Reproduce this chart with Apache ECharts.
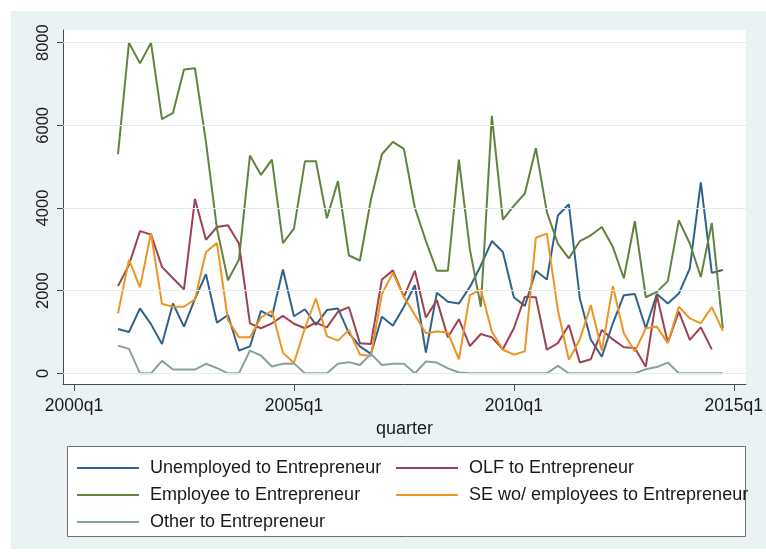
<!DOCTYPE html>
<html>
<head>
<meta charset="utf-8">
<script src="https://cdn.jsdelivr.net/npm/echarts@6/dist/echarts.min.js"></script>
<style>
  html, body { margin: 0; padding: 0; background: #ffffff; }
  #chart { width: 766px; height: 555px; }
</style>
</head>
<body>
<div id="chart"></div>
<script>
// Quarterly flows into entrepreneurship, 2001q1-2014q4
const quarters = [
  '2001q1','2001q2','2001q3','2001q4','2002q1','2002q2','2002q3','2002q4',
  '2003q1','2003q2','2003q3','2003q4','2004q1','2004q2','2004q3','2004q4',
  '2005q1','2005q2','2005q3','2005q4','2006q1','2006q2','2006q3','2006q4',
  '2007q1','2007q2','2007q3','2007q4','2008q1','2008q2','2008q3','2008q4',
  '2009q1','2009q2','2009q3','2009q4','2010q1','2010q2','2010q3','2010q4',
  '2011q1','2011q2','2011q3','2011q4','2012q1','2012q2','2012q3','2012q4',
  '2013q1','2013q2','2013q3','2013q4','2014q1','2014q2','2014q3','2014q4'
];

const xTickLabels = ['2000q1', '2005q1', '2010q1', '2015q1'];
const yTickValues = [0, 2000, 4000, 6000, 8000];

const seriesNames = [
  'Unemployed to Entrepreneur',
  'OLF to Entrepreneur',
  'Employee to Entrepreneur',
  'SE wo/ employees to Entrepreneur',
  'Other to Entrepreneur'
];

const unemployed = [
  1070, 1000, 1570, 1190, 710, 1690, 1130, 1800, 2400, 1225,
  1410, 550, 650, 1510, 1370, 2510, 1380, 1550, 1170, 1530,
  1570, 970, 650, 470, 1370, 1150, 1610, 2130, 500, 1950,
  1730, 1690, 2090, 2610, 3200, 2935, 1840, 1630, 2480, 2270,
  3820, 4090, 1810, 810, 400, 1210, 1890, 1920, 1090, 1920,
  1690, 1930, 2540, 4620, 2430, 2500
];

// OLF series stops at 2014q3
const olf = [
  2110, 2620, 3440, 3360, 2575, 2300, 2030, 4220, 3230, 3540,
  3580, 3140, 1210, 1090, 1210, 1390, 1200, 1090, 1225, 1110,
  1490, 1600, 730, 710, 2270, 2490, 1850, 2480, 1350, 1770,
  870, 1310, 660, 950, 870, 580, 1090, 1850, 1840, 570,
  730, 1170, 260, 340, 1050, 820, 630, 610, 160, 1890,
  740, 1490, 810, 1110, 580
];

const employee = [
  5300, 8000, 7500, 8000, 6150, 6300, 7350, 7380, 5600, 3500,
  2250, 2750, 5270, 4800, 5170, 3150, 3500, 5130, 5130, 3750,
  4650, 2850, 2730, 4200, 5300, 5600, 5430, 4000, 3200, 2480,
  2480, 5170, 3000, 1610, 6230, 3720, 4050, 4350, 5450, 3900,
  3140, 2780, 3200, 3340, 3540, 3060, 2300, 3680, 1840, 1970,
  2230, 3700, 3140, 2330, 3640, 1090
];

const selfEmployedNoStaff = [
  1450, 2750, 2080, 3390, 1680, 1610, 1610, 1790, 2935, 3150,
  1290, 870, 870, 1350, 1510, 500, 250, 1090, 1810, 900,
  790, 1050, 450, 420, 1920, 2430, 1850, 1410, 970, 1010,
  985, 340, 1890, 2030, 1010, 570, 450, 530, 3280, 3380,
  1530, 330, 820, 1650, 550, 2110, 970, 530, 1090, 1130,
  730, 1610, 1330, 1210, 1600, 1030
];

const other = [
  670, 590, 0, 0, 300, 90, 90, 90, 230, 125,
  0, 0, 550, 430, 165, 230, 240, 0, 0, 0,
  230, 270, 200, 470, 200, 230, 230, 0, 285, 260,
  120, 20, 0, 0, 0, 0, 0, 0, 0, 0,
  180, 0, 0, 0, 0, 0, 0, 0, 100, 150,
  260, 0, 0, 0, 0, 0
];

const seriesValues = [unemployed, olf, employee, selfEmployedNoStaff, other];
const seriesColors = ['#30628c', '#9c4252', '#62823f', '#ec9424', '#86a39b'];

// quarters counted from 2000q1
function quarterIndex(label) {
  const m = /^(\d{4})q(\d)$/.exec(label);
  return (Number(m[1]) - 2000) * 4 + (Number(m[2]) - 1);
}
const xs = quarters.map(quarterIndex);
const xTickValues = xTickLabels.map(quarterIndex);

const FONT = "'Liberation Sans', Arial, Helvetica, sans-serif";
const INK = '#1a1a1a';
const AXIS = '#4a4a4a';

const chart = echarts.init(document.getElementById('chart'), null, { renderer: 'canvas' });

const lineSeries = seriesNames.map((name, k) => ({
  name: name,
  type: 'line',
  data: seriesValues[k].map((v, i) => [xs[i], v]),
  symbol: 'none',
  showSymbol: false,
  lineStyle: { width: 2, color: seriesColors[k] },
  itemStyle: { color: seriesColors[k] },
  z: 3,
  animation: false
}));

// horizontal grid at the labelled y ticks
const gridSeries = {
  name: '__grid',
  type: 'line',
  data: [],
  silent: true,
  z: 1,
  animation: false,
  markLine: {
    silent: true,
    symbol: ['none', 'none'],
    label: { show: false },
    lineStyle: { color: '#e2ecee', width: 1, type: 'solid' },
    emphasis: { disabled: true },
    animation: false,
    data: yTickValues.map(v => ({ yAxis: v }))
  }
};

const legendCols = [77, 396];
const legendRows = [458, 485, 512];
const legends = seriesNames.map((name, k) => ({
  data: [name],
  orient: 'horizontal',
  left: legendCols[k % 2],
  top: legendRows[Math.floor(k / 2)],
  padding: 0,
  icon: 'rect',
  itemWidth: 62,
  itemHeight: 2,
  selectedMode: false,
  textStyle: {
    fontFamily: FONT,
    fontSize: 18,
    color: INK,
    padding: [0, 0, 0, 6],
    lineHeight: 20
  }
}));

chart.setOption({
  backgroundColor: '#ffffff',
  animation: false,
  textStyle: { fontFamily: FONT },
  graphic: [
    {
      type: 'rect',
      z: -20,
      silent: true,
      shape: { x: 11, y: 11, width: 755, height: 538 },
      style: { fill: '#eaf2f3' }
    },
    {
      type: 'rect',
      z: -10,
      silent: true,
      shape: { x: 67.5, y: 446.5, width: 678, height: 90 },
      style: { fill: '#ffffff', stroke: '#6e6e6e', lineWidth: 1 }
    }
  ],
  grid: {
    left: 63,
    top: 30,
    width: 689,
    height: 354,
    show: true,
    backgroundColor: '#ffffff',
    borderWidth: 0
  },
  legend: legends,
  xAxis: {
    type: 'value',
    min: -1,
    max: 61.1,
    name: 'quarter',
    nameLocation: 'middle',
    nameGap: 34,
    nameTextStyle: { fontFamily: FONT, fontSize: 18, color: INK },
    splitLine: { show: false },
    axisLine: { show: true, onZero: false, lineStyle: { color: AXIS, width: 1 } },
    axisTick: {
      show: true,
      length: 7,
      customValues: xTickValues,
      lineStyle: { color: AXIS, width: 1 }
    },
    axisLabel: {
      show: true,
      customValues: xTickValues,
      margin: 13,
      fontFamily: FONT,
      fontSize: 17.5,
      color: INK,
      formatter: v => xTickLabels[xTickValues.indexOf(Math.round(v))] || ''
    }
  },
  yAxis: {
    type: 'value',
    min: -259,
    max: 8307,
    splitLine: { show: false },
    axisLine: { show: true, onZero: false, lineStyle: { color: AXIS, width: 1 } },
    axisTick: {
      show: true,
      length: 6,
      customValues: yTickValues,
      lineStyle: { color: AXIS, width: 1 }
    },
    axisLabel: {
      show: true,
      customValues: yTickValues,
      rotate: 90,
      margin: 11,
      fontFamily: FONT,
      fontSize: 16.5,
      color: INK,
      formatter: v => String(v)
    }
  },
  series: [gridSeries].concat(lineSeries)
});
</script>
</body>
</html>
